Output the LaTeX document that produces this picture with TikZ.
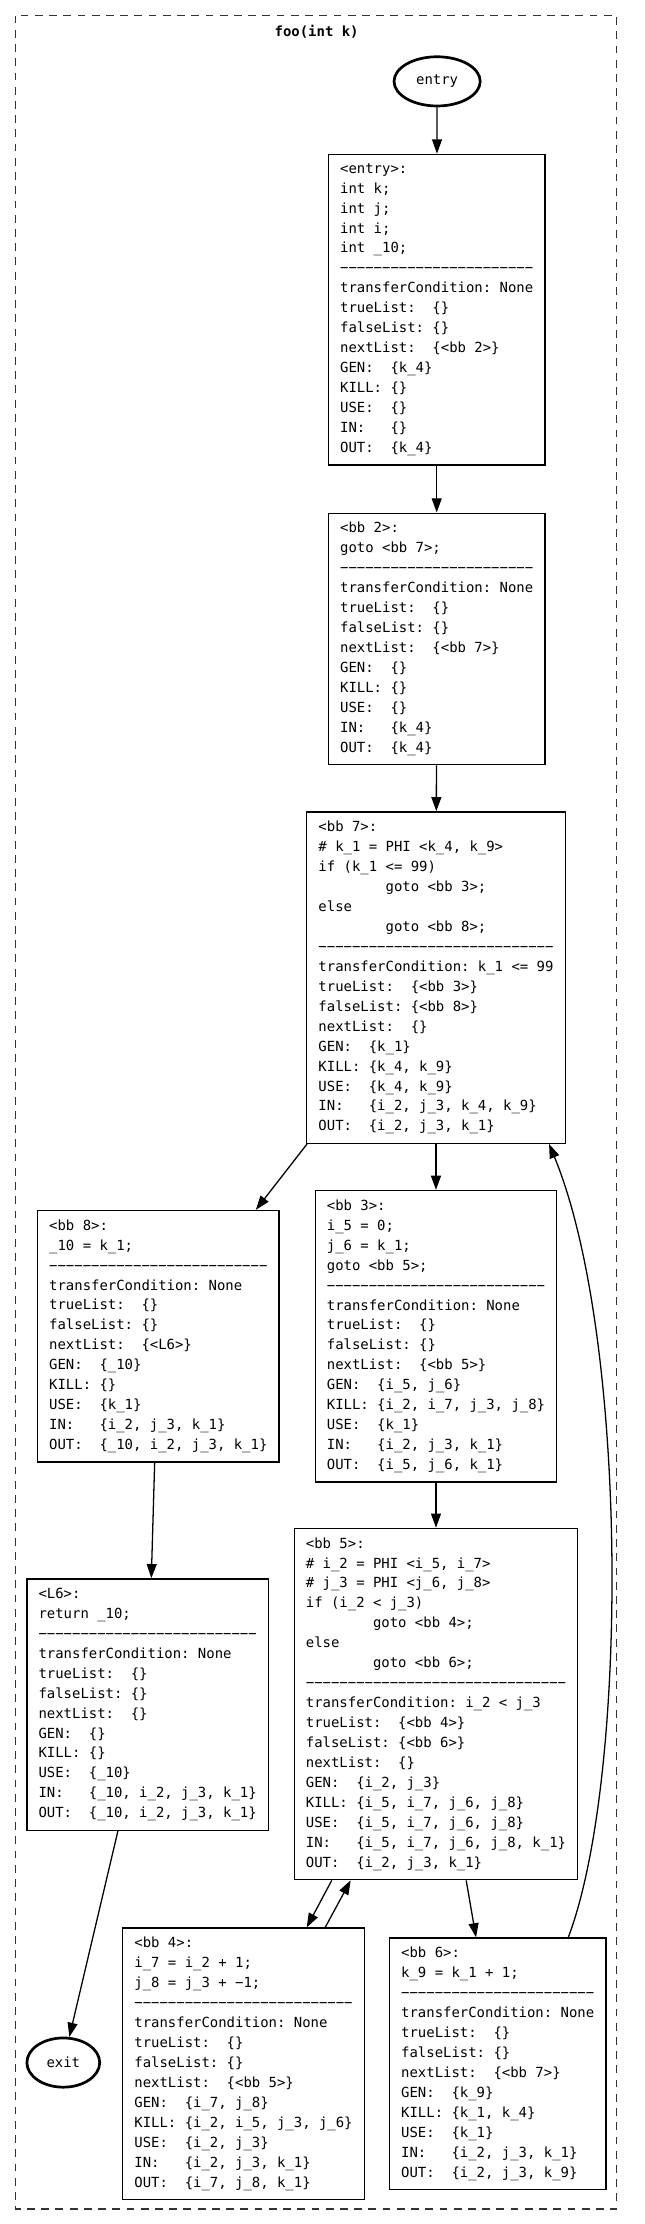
\documentclass[tikz,border=0pt]{standalone}
\usepackage{fontspec}
\setmonofont{DejaVu Sans Mono}
\usetikzlibrary{arrows.meta,shapes.geometric}
\newcommand{\sepdashes}[1]{\foreach \x in {1,...,#1}{\symbol{"2212}}}
\tikzset{
	bblock/.style={draw, line width=0.9pt, anchor=north, align=left, inner xsep=8.2pt, inner ysep=6.4pt, font=\fontsize{9.8}{14.03}\selectfont\ttfamily\frenchspacing},
	term/.style={draw, ellipse, line width=1.9pt, inner sep=0pt, minimum height=34.6pt, font=\fontsize{9.8}{12}\selectfont\ttfamily},
	flow/.style={-{Triangle[length=10pt,width=7pt]}, line width=0.9pt},
	cluster/.style={line width=0.9pt, black!80, dash pattern=on 5.5pt off 4.5pt}
}

\begin{document}
\begin{tikzpicture}[x=1pt, y=-1pt]
		%%%%% START %%%%%
		\useasboundingbox (0, 0) rectangle (453.4, 1563.5);
		\draw[cluster] (11, 11) rectangle (433.5, 1553);
		\node[font=\fontsize{9.8}{12}\selectfont\ttfamily\bfseries] (title) at (222.6, 22.3) {foo(int k)};
		
		\node[term, minimum width=60.6pt] (entry) at (307.3, 57.2) {entry};
		\node[term, minimum width=51.2pt] (exit) at (44.5, 1450) {exit};
		
		\node[bblock] (bbentry) at (307, 108) {<entry>:\\
int k;\\
int j;\\
int i;\\
int \_10;\\
\sepdashes{23}\\
transferCondition: None\\
trueList:~~\{\}\\
falseList: \{\}\\
nextList:~~\{<bb 2>\}\\
GEN:~~\{k\_4\}\\
KILL: \{\}\\
USE:~~\{\}\\
IN:~~~\{\}\\
OUT:~~\{k\_4\}};
		
		\node[bblock] (bb2) at (307, 360.3) {<bb 2>:\\
goto <bb 7>;\\
\sepdashes{23}\\
transferCondition: None\\
trueList:~~\{\}\\
falseList: \{\}\\
nextList:~~\{<bb 7>\}\\
GEN:~~\{\}\\
KILL: \{\}\\
USE:~~\{\}\\
IN:~~~\{k\_4\}\\
OUT:~~\{k\_4\}};
		
		\node[bblock] (bb7) at (306.5, 570.3) {<bb 7>:\\
\# k\_1 = PHI <k\_4, k\_9>\\
if (k\_1 <= 99)\\
~~~~~~~~goto <bb 3>;\\
else\\
~~~~~~~~goto <bb 8>;\\
\sepdashes{28}\\
transferCondition: k\_1 <= 99\\
trueList:~~\{<bb 3>\}\\
falseList: \{<bb 8>\}\\
nextList:~~\{\}\\
GEN:~~\{k\_1\}\\
KILL: \{k\_4, k\_9\}\\
USE:~~\{k\_4, k\_9\}\\
IN:~~~\{i\_2, j\_3, k\_4, k\_9\}\\
OUT:~~\{i\_2, j\_3, k\_1\}};
		
		\node[bblock] (bb8) at (111.3, 850.5) {<bb 8>:\\
\_10 = k\_1;\\
\sepdashes{26}\\
transferCondition: None\\
trueList:~~\{\}\\
falseList: \{\}\\
nextList:~~\{<L6>\}\\
GEN:~~\{\_10\}\\
KILL: \{\}\\
USE:~~\{k\_1\}\\
IN:~~~\{i\_2, j\_3, k\_1\}\\
OUT:~~\{\_10, i\_2, j\_3, k\_1\}};
		
		\node[bblock] (bb3) at (306.5, 836.5) {<bb 3>:\\
i\_5 = 0;\\
j\_6 = k\_1;\\
goto <bb 5>;\\
\sepdashes{26}\\
transferCondition: None\\
trueList:~~\{\}\\
falseList: \{\}\\
nextList:~~\{<bb 5>\}\\
GEN:~~\{i\_5, j\_6\}\\
KILL: \{i\_2, i\_7, j\_3, j\_8\}\\
USE:~~\{k\_1\}\\
IN:~~~\{i\_2, j\_3, k\_1\}\\
OUT:~~\{i\_5, j\_6, k\_1\}};
		
		\node[bblock] (bb5) at (306.5, 1074) {<bb 5>:\\
\# i\_2 = PHI <i\_5, i\_7>\\
\# j\_3 = PHI <j\_6, j\_8>\\
if (i\_2 < j\_3)\\
~~~~~~~~goto <bb 4>;\\
else\\
~~~~~~~~goto <bb 6>;\\
\sepdashes{31}\\
transferCondition: i\_2 < j\_3\\
trueList:~~\{<bb 4>\}\\
falseList: \{<bb 6>\}\\
nextList:~~\{\}\\
GEN:~~\{i\_2, j\_3\}\\
KILL: \{i\_5, i\_7, j\_6, j\_8\}\\
USE:~~\{i\_5, i\_7, j\_6, j\_8\}\\
IN:~~~\{i\_5, i\_7, j\_6, j\_8, k\_1\}\\
OUT:~~\{i\_2, j\_3, k\_1\}};
		
		\node[bblock] (L6) at (103.8, 1109.5) {<L6>:\\
return \_10;\\
\sepdashes{26}\\
transferCondition: None\\
trueList:~~\{\}\\
falseList: \{\}\\
nextList:~~\{\}\\
GEN:~~\{\}\\
KILL: \{\}\\
USE:~~\{\_10\}\\
IN:~~~\{\_10, i\_2, j\_3, k\_1\}\\
OUT:~~\{\_10, i\_2, j\_3, k\_1\}};
		
		\node[bblock] (bb4) at (171.2, 1355) {<bb 4>:\\
i\_7 = i\_2 + 1;\\
j\_8 = j\_3 + \symbol{"2212}1;\\
\sepdashes{26}\\
transferCondition: None\\
trueList:~~\{\}\\
falseList: \{\}\\
nextList:~~\{<bb 5>\}\\
GEN:~~\{i\_7, j\_8\}\\
KILL: \{i\_2, i\_5, j\_3, j\_6\}\\
USE:~~\{i\_2, j\_3\}\\
IN:~~~\{i\_2, j\_3, k\_1\}\\
OUT:~~\{i\_7, j\_8, k\_1\}};
		
		\node[bblock] (bb6) at (349.9, 1362) {<bb 6>:\\
k\_9 = k\_1 + 1;\\
\sepdashes{23}\\
transferCondition: None\\
trueList:~~\{\}\\
falseList: \{\}\\
nextList:~~\{<bb 7>\}\\
GEN:~~\{k\_9\}\\
KILL: \{k\_1, k\_4\}\\
USE:~~\{k\_1\}\\
IN:~~~\{i\_2, j\_3, k\_1\}\\
OUT:~~\{i\_2, j\_3, k\_9\}};
		
		\draw[flow] (entry) -- (bbentry);
		\draw[flow] (bbentry) -- (bb2);
		\draw[flow] (bb2) -- (bb7);
		\draw[flow] (bb7) -- (bb8);
		\draw[flow] (bb7) -- (bb3);
		\draw[flow] (bb8) -- (L6);
		\draw[flow] (bb3) -- (bb5);
		\draw[flow] ([xshift=-73.3pt]bb5.south) -- ([xshift=44.4pt]bb4.north);
		\draw[flow] ([xshift=57.4pt]bb4.north) -- ([xshift=-60pt]bb5.south);
		\draw[flow] (bb5) -- (bb6);
		\draw[flow] (L6) -- (exit);
		\draw[flow] ([xshift=49.6pt]bb6.north) .. controls (442, 1250) and (442, 940) .. ([xshift=79.5pt]bb7.south);
		%%%%% END %%%%%
\end{tikzpicture}
\end{document}
